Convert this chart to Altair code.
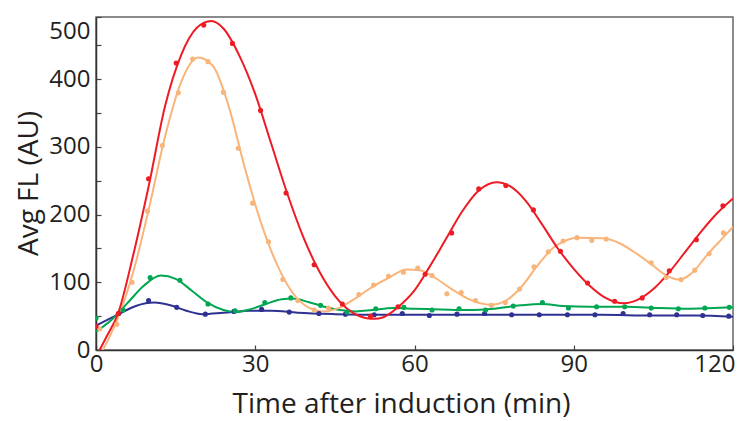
import altair as alt
import pandas as pd

# ---------------- data ----------------
series_names = ["blue", "green", "orange", "red"]
series_colors = ["#2E3192", "#00A651", "#F9B47A", "#ED1C24"]

# measured points (time in min, Avg FL)
red_pt_t = [0, 4.2, 9.9, 15.1, 20.3, 25.7, 31.0, 35.8, 41.1, 46.4, 51.7, 56.9, 62.0, 67.0,
            72.1, 77.2, 82.4, 87.5, 92.6, 97.7, 102.9, 108.0, 113.1, 118.1]
red_pt_v = [35, 54, 253, 424, 480, 453, 354, 232, 126, 68, 50, 64, 112, 173,
            238, 243, 207, 146, 99, 72, 77, 117, 163, 213]

orange_pt_t = [0.7, 3.9, 6.8, 9.7, 12.5, 15.5, 18.2, 21.1, 24.0, 26.8, 29.5, 32.5, 35.2, 38.0,
               41.1, 43.8, 49.5, 52.3, 55.1, 57.9, 60.6, 63.3, 66.1, 68.8, 71.5, 74.5, 77.1,
               79.8, 82.5, 85.2, 88.0, 90.6, 93.4, 96.1, 104.6, 107.4, 110.2, 112.8, 115.5, 118.2]
orange_pt_v = [31, 38, 100, 205, 302, 380, 430, 426, 381, 298, 217, 160, 104, 73,
               59, 62, 82, 96, 109, 115, 121, 110, 83, 85, 73, 66, 70,
               90, 123, 145, 161, 166, 162, 164, 129, 107, 104, 118, 142, 173]

green_pt_t = [0, 5.1, 10.2, 15.8, 21.1, 26.2, 31.8, 36.7, 42.3, 47.3, 52.7, 58.0, 63.3, 68.4,
              73.4, 78.6, 84.1, 89.0, 94.3, 99.6, 104.6, 109.7, 114.7, 119.3]
green_pt_v = [47, 59, 107, 103, 68, 58, 70, 77, 66, 56, 61, 63, 59, 61,
              59, 65, 70, 62, 64, 64, 62, 61, 62, 63]

blue_pt_t = [4.3, 9.9, 15.2, 20.6, 26.0, 31.2, 36.4, 42.0, 47.0, 52.4, 57.7, 62.8, 68.0,
             73.2, 78.3, 83.5, 88.8, 94.0, 99.3, 104.3, 109.4, 114.3, 119.2]
blue_pt_v = [54, 73, 63, 53, 57, 60, 56, 54, 53, 52, 54, 51, 53,
             54, 52, 52, 52, 52, 54, 52, 52, 51, 50]

# fitted curves (knots)
red_fit_t = [0, 2, 4.2, 7, 10, 13, 16, 19, 21.7, 24, 27, 30, 33, 36, 39, 42, 45, 48, 51, 52.5,
             54, 57, 60, 63, 66, 69, 72, 75.5, 78, 81, 84, 87, 90, 93, 96, 99.5, 102, 105,
             108, 111, 114, 117, 120]
red_fit_v = [-10, 20, 55, 140, 245, 360, 435, 476, 486, 475, 435, 378, 305, 232, 168, 117, 80,
             57, 47, 46, 48, 64, 88, 125, 165, 205, 235, 248, 242, 220, 186, 150, 120, 95, 77,
             69, 74, 90, 115, 145, 175, 202, 224]

orange_fit_t = [0, 1.3, 4, 7, 10, 13, 16, 19.2, 22, 25, 28, 31, 34, 37, 40, 43, 46, 49, 52, 55,
                58.5, 61, 64, 67, 70, 74.5, 77, 80, 83, 86, 88, 90.7, 95.5, 98.8, 101.9, 104.4,
                107.5, 110, 112, 115.3, 118, 120]
orange_fit_v = [-20, 0, 45, 115, 210, 315, 395, 432, 420, 360, 270, 190, 128, 85, 63, 57, 63,
                77, 93, 106, 119, 118, 106, 90, 76, 67, 72, 92, 123, 150, 160, 166, 165, 157,
                142, 128, 110, 104, 112, 142, 165, 182]

green_fit_t = [0, 3, 6, 9, 12.2, 15, 18, 21, 24, 26.5, 29, 32, 35, 37, 40, 43, 46, 49, 52, 56,
               60, 65, 70, 75, 80, 84, 88, 93, 100, 106, 112, 120]
green_fit_v = [27, 45, 70, 95, 110, 105, 88, 70, 59, 56, 60, 68, 75, 76, 71, 64, 59, 57, 59, 62,
               61, 60, 59, 61, 66, 68, 65, 64, 64, 62, 61, 63]

blue_fit_t = [0, 4, 7.5, 11, 14, 17, 20, 24, 29, 33, 38, 45, 55, 65, 75, 85, 95, 105, 113, 120]
blue_fit_v = [36, 52, 65, 70, 66, 58, 53, 55, 58, 58, 55, 53, 52, 52, 52, 52, 52, 51, 51, 49]

x_ticks = [0, 30, 60, 90, 120]
y_ticks = [0, 50, 100, 150, 200, 250, 300, 350, 400, 450, 492]

# ---------------- tables ----------------
def table(pairs):
    rows = []
    for name, ts, vs in pairs:
        for t, v in zip(ts, vs):
            rows.append({"t": t, "v": v, "s": name})
    return pd.DataFrame(rows)

points = table([("blue", blue_pt_t, blue_pt_v), ("green", green_pt_t, green_pt_v),
                ("orange", orange_pt_t, orange_pt_v), ("red", red_pt_t, red_pt_v)])
fits = table([("blue", blue_fit_t, blue_fit_v), ("green", green_fit_t, green_fit_v),
              ("orange", orange_fit_t, orange_fit_v), ("red", red_fit_t, red_fit_v)])

FONT = "Open Sans"
TXT = "#231F20"

x_enc = alt.X(
    "t:Q",
    scale=alt.Scale(domain=[0, 120], nice=False, zero=False),
    axis=alt.Axis(
        values=x_ticks, title="Time after induction (min)", format="d",
        tickSize={"expr": "-5"}, tickColor="#444", tickWidth=1.2,
        labelPadding=7, labelFlush=False, labelOverlap=False,
        labelAlign={"condition": {"test": "datum.value >= 120", "value": "right"}, "value": "center"},
        labelOffset={"condition": {"test": "datum.value >= 120", "value": 2}, "value": 0},
        labelFont=FONT, labelFontSize=24, labelColor=TXT,
        titleFont=FONT, titleFontSize=28, titleFontWeight="normal", titleColor=TXT,
        titleX=305, titleY=62, titleBaseline="alphabetic", titleAlign="center",
        domainColor="#333", domainWidth=1.5, grid=False,
    ),
)
y_enc = alt.Y(
    "v:Q",
    scale=alt.Scale(domain=[0, 492], nice=False, zero=False),
    axis=alt.Axis(
        values=y_ticks, title="Avg FL (AU)",
        labelExpr="datum.value > 480 ? '500' : (datum.value % 100 == 0 ? datum.label : '')",
        labelBaseline={"condition": {"test": "datum.value > 480", "value": "top"}, "value": "middle"},
        labelOffset={"condition": {"test": "datum.value > 480", "value": 2}, "value": 0},
        tickSize={"expr": "-5"}, tickColor="#444", tickWidth=1.2,
        labelPadding=11, labelFlush=False, labelOverlap=False,
        labelFont=FONT, labelFontSize=24, labelColor=TXT,
        titleFont=FONT, titleFontSize=28, titleFontWeight="normal", titleColor=TXT,
        titleX=-67, titleY=166, titleBaseline="middle", titleAlign="center", titleAngle=-90,
        domainColor="#333", domainWidth=1.5, grid=False,
    ),
)
color_enc = alt.Color("s:N", scale=alt.Scale(domain=series_names, range=series_colors), legend=None)

lines = alt.Chart(fits).mark_line(strokeWidth=2, interpolate="monotone", clip=True).encode(
    x=x_enc, y=y_enc, color=color_enc, detail="s:N"
)
dots = alt.Chart(points).mark_circle(size=26, opacity=1, clip=True).encode(
    x=x_enc, y=y_enc, color=color_enc
)

chart = (
    alt.layer(lines, dots)
    .properties(
        width=637, height=333,
        autosize=alt.AutoSizeParams(type="none"),
        padding={"left": 88, "top": 9, "right": 2, "bottom": 71},
        background="white",
    )
    .configure_view(stroke="#666", strokeWidth=1.5)
)

chart.save("out.html", embed_options={"renderer": "svg", "actions": False})
